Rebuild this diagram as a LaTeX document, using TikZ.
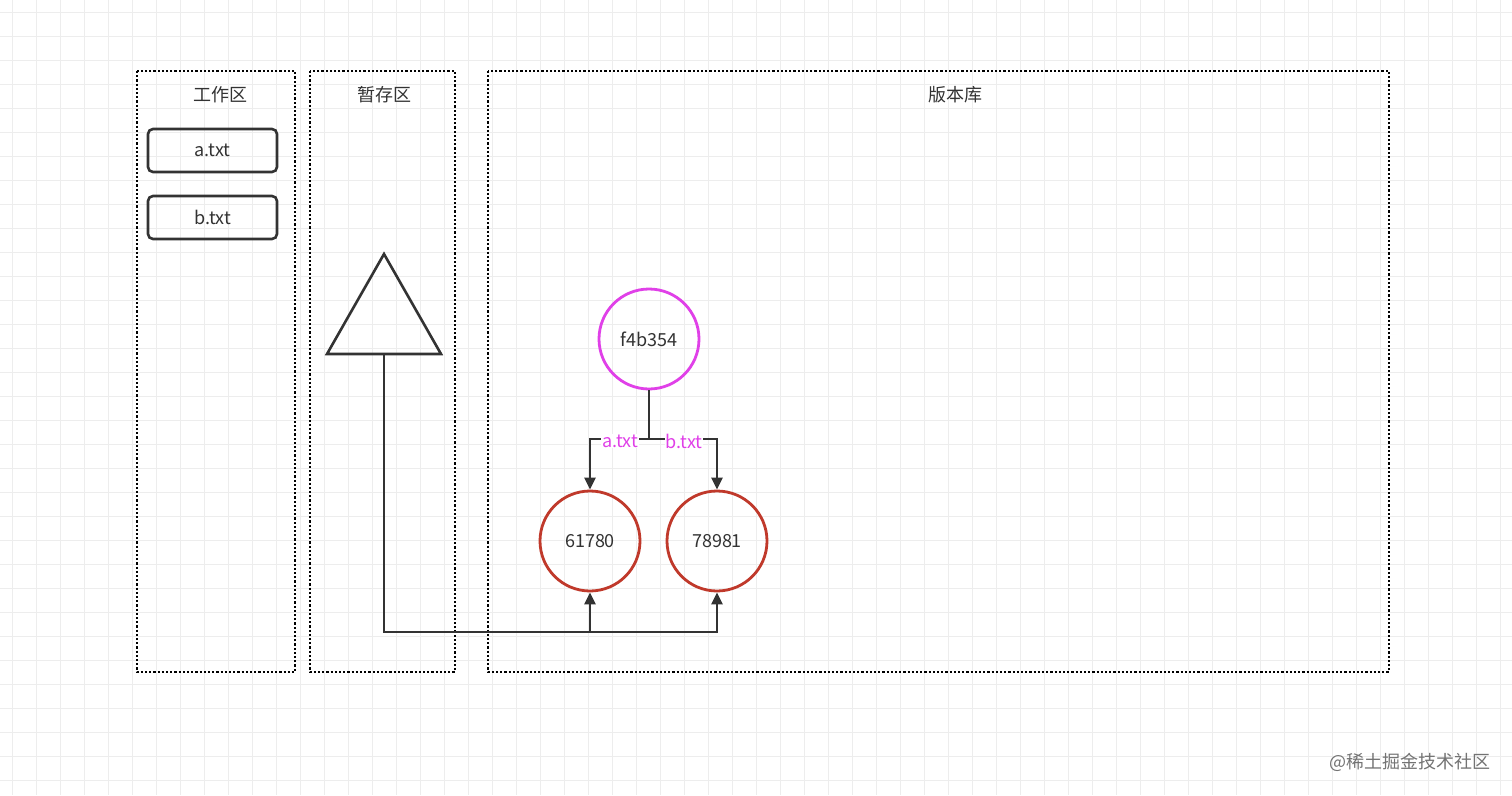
\documentclass[tikz,border=0pt]{standalone}
\usepackage{fontspec}
\setmainfont{Noto Sans CJK SC}
\usetikzlibrary{arrows.meta}
\definecolor{mag}{HTML}{E040E8}
\definecolor{redc}{HTML}{C0392B}
\definecolor{dk}{HTML}{333333}
\tikzset{
 area/.style={draw=black,line width=2.2pt,dotted},
 filebox/.style={draw=dk,line width=2.6pt,rounded corners=5pt,minimum width=129pt,minimum height=43pt,font=\fontsize{18}{22}\selectfont,text=dk},
 hashc/.style={circle,line width=2.8pt,minimum size=100pt,font=\fontsize{18}{22}\selectfont,text=dk},
 conn/.style={draw=dk,line width=2.6pt},
 arr/.style={conn,-{Triangle[length=12pt,width=11pt]}},
 lbl/.style={font=\fontsize{18}{22}\selectfont,text=dk},
}
\begin{document}
\begin{tikzpicture}[x=1pt,y=-1pt]
\useasboundingbox (0,0) rectangle (1512,795);
\fill[white] (0,0) rectangle (1512,795);
\foreach \i in {0,...,63} {\draw[black!7,line width=0.8pt] (\i*24+12,0) -- (\i*24+12,795);}
\foreach \i in {0,...,33} {\draw[black!7,line width=0.8pt] (0,\i*24+12) -- (1512,\i*24+12);}
\draw[area] (137,71) rectangle (295,672);
\draw[area] (310,71) rectangle (455,672);
\draw[area] (488,71) rectangle (1389,672);
\node[lbl] (t1) at (220,95) {工作区};
\node[lbl] (t2) at (384,95) {暂存区};
\node[lbl] (t3) at (955,95) {版本库};
\node[filebox] (a) at (212.5,150.5) {a.txt};
\node[filebox] (b) at (212.5,217.5) {b.txt};
\draw[dk,line width=2.6pt,line join=miter] (384,254) -- (441,354) -- (327,354) -- cycle;
\coordinate (tb) at (384,354);
\node[hashc,draw=mag] (f) at (649,339) {f4b354};
\node[hashc,draw=redc] (c1) at (590,541) {61780};
\node[hashc,draw=redc] (c2) at (717,541) {78981};
\coordinate (j) at (649,439);
\coordinate (bl) at (384,632);
\draw[conn] (f) -- (j);
\draw[arr] (j) -| (c1);
\draw[arr] (j) -| (c2);
\node[fill=white,inner sep=1pt,font=\fontsize{18}{22}\selectfont,text=mag] (la) at (620,441) {a.txt};
\node[fill=white,inner sep=1pt,font=\fontsize{18}{22}\selectfont,text=mag] (lb) at (684,441) {b.txt};
\draw[conn] (tb) -- (bl) -- (717,632);
\draw[arr] (590,632) -- (c1);
\draw[arr] (717,633) -- (c2);
\node[font=\fontsize{18}{22}\selectfont,text=black!55] (w) at (1410,762) {@稀土掘金技术社区};
\end{tikzpicture}
\end{document}
